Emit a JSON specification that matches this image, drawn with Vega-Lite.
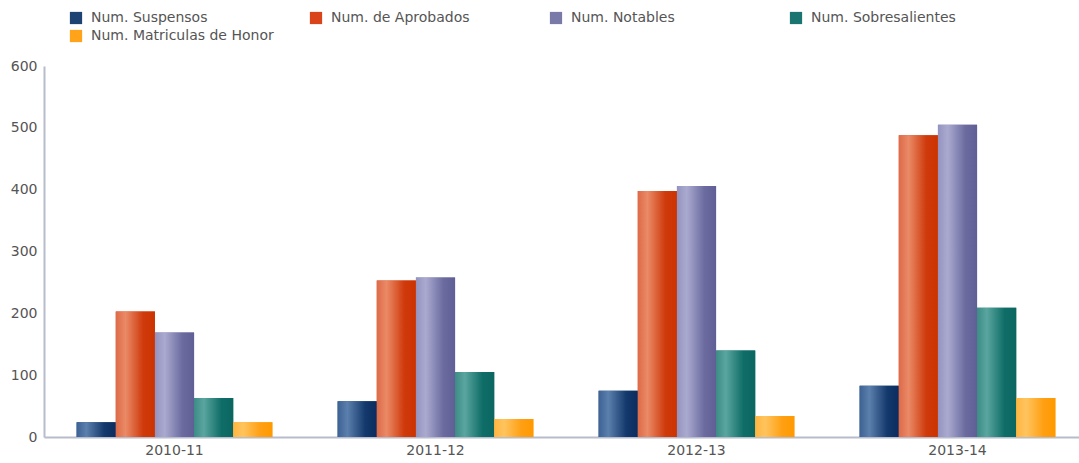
{
  "$schema": "https://vega.github.io/schema/vega-lite/v6.json",
  "width": 1044,
  "height": 371,
  "autosize": {"type": "none"},
  "padding": {"left": 44, "top": 66, "right": 0, "bottom": 26},
  "background": "white",
  "config": {
    "view": {"stroke": null},
    "font": "DejaVu Sans"
  },
  "data": {
    "values": [
      {"curso": "2010-11", "serie": "Num. Suspensos", "valor": 24},
      {"curso": "2010-11", "serie": "Num. de Aprobados", "valor": 203},
      {"curso": "2010-11", "serie": "Num. Notables", "valor": 169},
      {"curso": "2010-11", "serie": "Num. Sobresalientes", "valor": 63},
      {"curso": "2010-11", "serie": "Num. Matriculas de Honor", "valor": 24},
      {"curso": "2011-12", "serie": "Num. Suspensos", "valor": 58},
      {"curso": "2011-12", "serie": "Num. de Aprobados", "valor": 253},
      {"curso": "2011-12", "serie": "Num. Notables", "valor": 258},
      {"curso": "2011-12", "serie": "Num. Sobresalientes", "valor": 105},
      {"curso": "2011-12", "serie": "Num. Matriculas de Honor", "valor": 29},
      {"curso": "2012-13", "serie": "Num. Suspensos", "valor": 75},
      {"curso": "2012-13", "serie": "Num. de Aprobados", "valor": 398},
      {"curso": "2012-13", "serie": "Num. Notables", "valor": 406},
      {"curso": "2012-13", "serie": "Num. Sobresalientes", "valor": 140},
      {"curso": "2012-13", "serie": "Num. Matriculas de Honor", "valor": 34},
      {"curso": "2013-14", "serie": "Num. Suspensos", "valor": 83},
      {"curso": "2013-14", "serie": "Num. de Aprobados", "valor": 488},
      {"curso": "2013-14", "serie": "Num. Notables", "valor": 505},
      {"curso": "2013-14", "serie": "Num. Sobresalientes", "valor": 209},
      {"curso": "2013-14", "serie": "Num. Matriculas de Honor", "valor": 63}
    ]
  },
  "encoding": {
    "x": {
      "field": "curso",
      "type": "nominal",
      "scale": {"paddingInner": 0.25, "paddingOuter": 0.125},
      "axis": {
        "title": null,
        "labelAngle": 0,
        "labelFontSize": 14,
        "labelColor": "#555555",
        "labelPadding": 6,
        "ticks": false,
        "domainColor": "#b8bccb",
        "domainWidth": 2
      }
    },
    "xOffset": {
      "field": "serie",
      "type": "nominal",
      "sort": ["Num. Suspensos", "Num. de Aprobados", "Num. Notables", "Num. Sobresalientes", "Num. Matriculas de Honor"],
      "scale": {"paddingInner": 0}
    },
    "y": {
      "field": "valor",
      "type": "quantitative",
      "scale": {"domain": [0, 600]},
      "axis": {
        "title": null,
        "values": [0, 100, 200, 300, 400, 500, 600],
        "grid": false,
        "ticks": false,
        "labelFontSize": 14,
        "labelColor": "#555555",
        "labelPadding": 7,
        "domainColor": "#b8bccb",
        "domainWidth": 2
      }
    }
  },
  "layer": [
    {
      "mark": {"type": "bar"},
      "encoding": {
        "color": {
          "field": "serie",
          "type": "nominal",
          "sort": ["Num. Suspensos", "Num. de Aprobados", "Num. Notables", "Num. Sobresalientes", "Num. Matriculas de Honor"],
          "scale": {
            "domain": ["Num. Suspensos", "Num. de Aprobados", "Num. Notables", "Num. Sobresalientes", "Num. Matriculas de Honor"],
            "range": ["#1d4373", "#d9441a", "#7a7aa8", "#1a7570", "#ffa31a"]
          },
          "legend": {
            "title": null,
            "orient": "none",
            "legendX": 25,
            "legendY": -55,
            "direction": "horizontal",
            "columns": 4,
            "gridAlign": "all",
            "columnPadding": 35,
            "rowPadding": 4,
            "symbolType": "square",
            "symbolSize": 150,
            "symbolStrokeWidth": 0,
            "labelOffset": 8,
            "labelFontSize": 14,
            "labelColor": "#555555",
            "labelLimit": 300
          }
        }
      }
    },
    {
      "mark": {"type": "bar"},
      "encoding": {
        "color": {
          "condition": [
            {"test": "datum.serie === 'Num. Suspensos'", "value": {"gradient": "linear", "x1": 0, "x2": 1, "y1": 0, "y2": 0, "stops": [{"offset": 0, "color": "#3c6294"}, {"offset": 0.25, "color": "#5b80ad"}, {"offset": 0.7, "color": "#14396c"}, {"offset": 1, "color": "#0b2c5e"}]}},
            {"test": "datum.serie === 'Num. de Aprobados'", "value": {"gradient": "linear", "x1": 0, "x2": 1, "y1": 0, "y2": 0, "stops": [{"offset": 0, "color": "#dd6a48"}, {"offset": 0.25, "color": "#ea8a66"}, {"offset": 0.7, "color": "#cf3a0c"}, {"offset": 1, "color": "#cc3300"}]}},
            {"test": "datum.serie === 'Num. Notables'", "value": {"gradient": "linear", "x1": 0, "x2": 1, "y1": 0, "y2": 0, "stops": [{"offset": 0, "color": "#9393bf"}, {"offset": 0.25, "color": "#aaaad0"}, {"offset": 0.7, "color": "#6b6ba0"}, {"offset": 1, "color": "#5f5f95"}]}},
            {"test": "datum.serie === 'Num. Sobresalientes'", "value": {"gradient": "linear", "x1": 0, "x2": 1, "y1": 0, "y2": 0, "stops": [{"offset": 0, "color": "#3d8c86"}, {"offset": 0.25, "color": "#5aa59f"}, {"offset": 0.7, "color": "#0f6d67"}, {"offset": 1, "color": "#0b6660"}]}},
            {"test": "datum.serie === 'Num. Matriculas de Honor'", "value": {"gradient": "linear", "x1": 0, "x2": 1, "y1": 0, "y2": 0, "stops": [{"offset": 0, "color": "#ffb540"}, {"offset": 0.25, "color": "#ffc45e"}, {"offset": 0.7, "color": "#ff9f12"}, {"offset": 1, "color": "#ff9900"}]}}
          ],
          "value": "#888888"
        }
      }
    }
  ]
}
